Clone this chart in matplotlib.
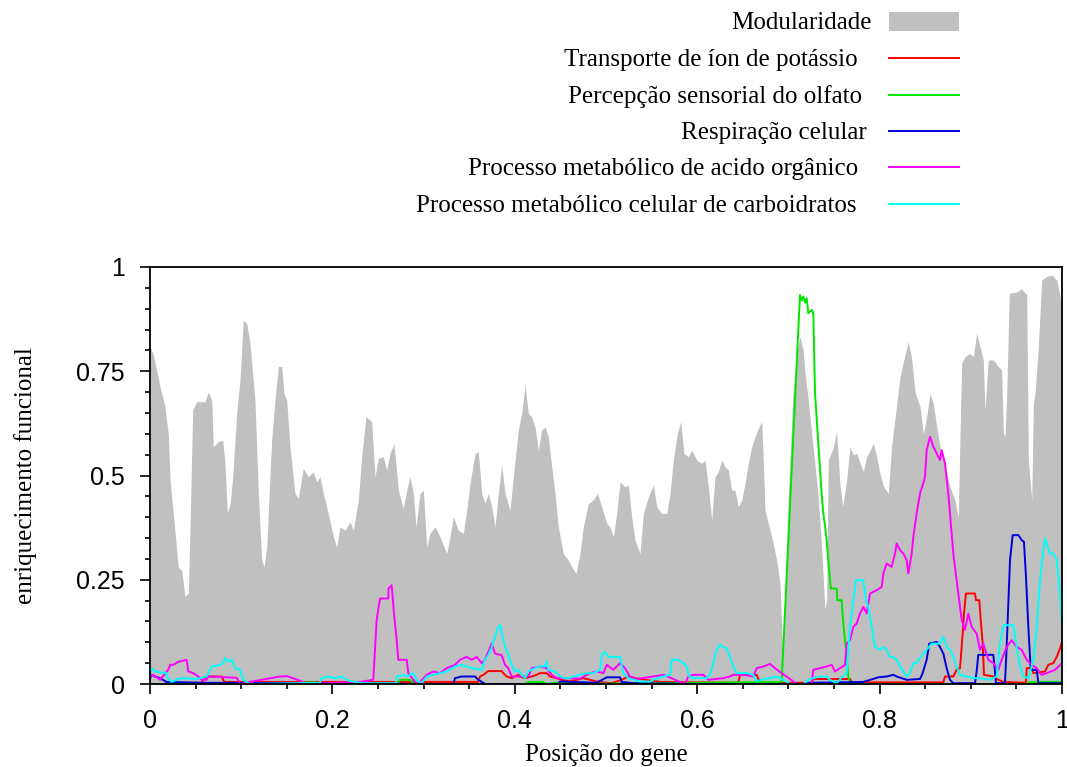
import numpy as np
import matplotlib.pyplot as plt
from matplotlib.lines import Line2D
from matplotlib.patches import Rectangle
from matplotlib.ticker import MultipleLocator, FixedLocator

# Modularidade (posição, valor)
modularidade = [
    (0.0, 0.81), (0.0036, 0.79), (0.011, 0.713), (0.0164, 0.665), (0.020, 0.60), (0.022, 0.49),
    (0.0255, 0.41), (0.031, 0.28), (0.0348, 0.273), (0.0384, 0.21), (0.042, 0.218), (0.0439, 0.377),
    (0.0468, 0.657), (0.0512, 0.677), (0.0603, 0.677), (0.0639, 0.70), (0.0677, 0.68), (0.0694, 0.569),
    (0.0749, 0.581), (0.0797, 0.585), (0.0822, 0.53), (0.0848, 0.41), (0.0877, 0.43), (0.0907, 0.497),
    (0.0951, 0.65), (0.0987, 0.729), (0.1023, 0.873), (0.106, 0.865), (0.1096, 0.817), (0.1151, 0.681),
    (0.1188, 0.457), (0.1225, 0.297), (0.125, 0.281), (0.128, 0.329), (0.1334, 0.585), (0.137, 0.68),
    (0.1407, 0.762), (0.1444, 0.761), (0.1469, 0.697), (0.1499, 0.681), (0.1535, 0.569), (0.159, 0.457),
    (0.1626, 0.446), (0.1681, 0.517), (0.1736, 0.497), (0.1791, 0.509), (0.1828, 0.485), (0.1864, 0.497),
    (0.19, 0.457), (0.1955, 0.409), (0.201, 0.353), (0.2047, 0.329), (0.2083, 0.377), (0.2138, 0.369),
    (0.2193, 0.389), (0.2229, 0.369), (0.2284, 0.441), (0.2321, 0.545), (0.2368, 0.641), (0.2431, 0.629),
    (0.2467, 0.497), (0.2503, 0.541), (0.2558, 0.545), (0.2595, 0.513), (0.2632, 0.553), (0.2675, 0.577),
    (0.2723, 0.465), (0.2777, 0.421), (0.2815, 0.465), (0.2851, 0.497), (0.2887, 0.457), (0.2917, 0.377),
    (0.2961, 0.457), (0.2997, 0.465), (0.3034, 0.329), (0.307, 0.361), (0.3125, 0.377), (0.318, 0.353),
    (0.3253, 0.313), (0.3289, 0.353), (0.3326, 0.401), (0.338, 0.369), (0.3435, 0.361), (0.3473, 0.417),
    (0.3509, 0.481), (0.3564, 0.553), (0.36, 0.557), (0.3637, 0.457), (0.3673, 0.433), (0.3709, 0.457),
    (0.3747, 0.425), (0.3783, 0.377), (0.3819, 0.457), (0.3856, 0.525), (0.3893, 0.457), (0.3947, 0.417),
    (0.3984, 0.497), (0.4038, 0.609), (0.4076, 0.649), (0.4112, 0.717), (0.4148, 0.649), (0.4185, 0.641),
    (0.4221, 0.617), (0.4258, 0.561), (0.4295, 0.609), (0.4331, 0.617), (0.4367, 0.593), (0.4405, 0.521),
    (0.4441, 0.457), (0.4477, 0.377), (0.4532, 0.313), (0.4587, 0.297), (0.4624, 0.281), (0.4671, 0.265),
    (0.4715, 0.313), (0.4751, 0.377), (0.4806, 0.433), (0.4861, 0.441), (0.4905, 0.457), (0.4953, 0.425),
    (0.5008, 0.385), (0.5044, 0.377), (0.508, 0.353), (0.5117, 0.409), (0.5154, 0.485), (0.5208, 0.473),
    (0.5245, 0.477), (0.5282, 0.401), (0.5318, 0.345), (0.5373, 0.313), (0.5409, 0.409), (0.5464, 0.449),
    (0.5519, 0.477), (0.5556, 0.425), (0.5611, 0.409), (0.5666, 0.409), (0.5702, 0.457), (0.5738, 0.537),
    (0.5782, 0.601), (0.5819, 0.629), (0.5855, 0.553), (0.5902, 0.545), (0.594, 0.561), (0.5995, 0.537),
    (0.6049, 0.529), (0.6086, 0.537), (0.6122, 0.473), (0.6159, 0.393), (0.6195, 0.497), (0.6231, 0.509),
    (0.6269, 0.537), (0.6305, 0.521), (0.6341, 0.513), (0.6378, 0.465), (0.6414, 0.465), (0.6451, 0.425),
    (0.6488, 0.441), (0.6524, 0.481), (0.656, 0.529), (0.6598, 0.569), (0.6634, 0.593), (0.667, 0.613),
    (0.6707, 0.629), (0.6725, 0.537), (0.6743, 0.417), (0.678, 0.385), (0.6834, 0.337), (0.6871, 0.297),
    (0.6908, 0.241), (0.6926, 0.137), (0.6937, 0.07), (0.6963, 0.2), (0.70, 0.45), (0.705, 0.7),
    (0.709, 0.79), (0.7127, 0.833), (0.7163, 0.80), (0.718, 0.75), (0.7218, 0.68), (0.727, 0.57),
    (0.7327, 0.45), (0.7364, 0.33), (0.74, 0.18), (0.7419, 0.2), (0.7437, 0.537), (0.749, 0.565),
    (0.7529, 0.605), (0.7565, 0.48), (0.7595, 0.425), (0.7639, 0.49), (0.7675, 0.569), (0.7712, 0.55),
    (0.7749, 0.553), (0.7785, 0.53), (0.7822, 0.51), (0.7858, 0.545), (0.7895, 0.56), (0.7931, 0.577),
    (0.7968, 0.545), (0.8004, 0.505), (0.8041, 0.475), (0.8095, 0.457), (0.8132, 0.57), (0.8224, 0.737),
    (0.8279, 0.79), (0.8315, 0.821), (0.8352, 0.78), (0.8388, 0.70), (0.8443, 0.665), (0.848, 0.60),
    (0.8516, 0.64), (0.8553, 0.697), (0.8589, 0.673), (0.8626, 0.617), (0.8662, 0.569), (0.8717, 0.521),
    (0.8772, 0.473), (0.8826, 0.441), (0.8863, 0.401), (0.8882, 0.60), (0.89, 0.769), (0.8936, 0.785),
    (0.899, 0.793), (0.9027, 0.785), (0.9064, 0.841), (0.91, 0.81), (0.9137, 0.777), (0.9155, 0.657),
    (0.9192, 0.777), (0.9247, 0.777), (0.9302, 0.761), (0.9338, 0.753), (0.9357, 0.601), (0.9375, 0.593),
    (0.9393, 0.69), (0.9422, 0.937), (0.9503, 0.94), (0.9558, 0.948), (0.9594, 0.937), (0.9613, 0.937),
    (0.9631, 0.537), (0.9668, 0.441), (0.9686, 0.673), (0.9704, 0.697), (0.9741, 0.809), (0.9777, 0.969),
    (0.9832, 0.977), (0.9887, 0.981), (0.9942, 0.969), (0.9978, 0.929), (1.0, 0.9),
]

# Transporte de íon de potássio
potassio = [
    (0.0, 0.0), (0.055, 0.0), (0.0622, 0.018), (0.0786, 0.018), (0.0813, 0.005), (0.3598, 0.005),
    (0.3619, 0.018), (0.3655, 0.022), (0.3709, 0.031), (0.3856, 0.031), (0.3874, 0.026), (0.3911, 0.018),
    (0.3966, 0.014), (0.4039, 0.022), (0.4058, 0.018), (0.4112, 0.014), (0.4185, 0.018), (0.4239, 0.022),
    (0.4276, 0.026), (0.4349, 0.026), (0.4386, 0.018), (0.4459, 0.014), (0.4514, 0.01), (0.4605, 0.006),
    (0.4678, 0.01), (0.4751, 0.014), (0.4897, 0.006), (0.5059, 0.002), (0.5172, 0.01), (0.5245, 0.018),
    (0.5318, 0.014), (0.5427, 0.01), (0.56, 0.005), (0.6451, 0.003), (0.6469, 0.022), (0.6652, 0.022),
    (0.6689, 0.003), (0.7255, 0.003), (0.7273, 0.012), (0.7676, 0.012), (0.7694, 0.004), (0.8699, 0.004),
    (0.8717, 0.018), (0.8808, 0.018), (0.8845, 0.034), (0.8882, 0.038), (0.8911, 0.121), (0.8925, 0.169),
    (0.8947, 0.217), (0.9046, 0.217), (0.9057, 0.201), (0.9093, 0.201), (0.9109, 0.153), (0.913, 0.097),
    (0.9145, 0.022), (0.9247, 0.018), (0.9283, 0.012), (0.9357, 0.005), (0.9605, 0.003), (0.9613, 0.038),
    (0.9668, 0.038), (0.9686, 0.026), (0.9814, 0.03), (0.985, 0.046), (0.9905, 0.05), (0.9942, 0.065),
    (0.9978, 0.085), (1.0, 0.101),
]

# Percepção sensorial do olfato
olfato = [
    (0.0, 0.0), (0.16, 0.0), (0.165, 0.004), (0.18, 0.004), (0.185, 0.0), (0.272, 0.0), (0.274, 0.01),
    (0.285, 0.01), (0.29, 0.0), (0.41, 0.0), (0.415, 0.005), (0.43, 0.005), (0.435, 0.0), (0.448, 0.004),
    (0.455, 0.004), (0.46, 0.0), (0.6926, 0.005), (0.7127, 0.933), (0.7146, 0.92), (0.7164, 0.929),
    (0.7182, 0.915), (0.7201, 0.925), (0.7218, 0.889), (0.7255, 0.897), (0.7273, 0.89), (0.7292, 0.697),
    (0.7328, 0.577), (0.7364, 0.457), (0.7383, 0.409), (0.7401, 0.38), (0.7419, 0.345), (0.7437, 0.297),
    (0.7464, 0.229), (0.753, 0.229), (0.7536, 0.201), (0.7584, 0.201), (0.7602, 0.145), (0.7632, 0.082),
    (0.7657, 0.018), (0.7675, 0.0), (0.96, 0.0), (0.965, 0.005), (1.0, 0.005),
]

# Respiração celular
respiracao = [
    (0.0, 0.014), (0.002, 0.022), (0.0055, 0.018), (0.011, 0.014), (0.018, 0.005), (0.06, 0.003),
    (0.19, 0.002), (0.3, 0.0), (0.3326, 0.0), (0.3344, 0.014), (0.3418, 0.018), (0.3564, 0.018),
    (0.36, 0.01), (0.3637, 0.005), (0.3673, 0.0), (0.4477, 0.0), (0.4495, 0.006), (0.4897, 0.003),
    (0.5008, 0.016), (0.5154, 0.016), (0.5172, 0.005), (0.53, 0.002), (0.6, 0.0), (0.7164, 0.0),
    (0.7237, 0.003), (0.7822, 0.005), (0.7986, 0.016), (0.8077, 0.018), (0.815, 0.022), (0.8187, 0.018),
    (0.8297, 0.01), (0.8443, 0.012), (0.8472, 0.026), (0.8516, 0.058), (0.8545, 0.097), (0.8626, 0.101),
    (0.8662, 0.089), (0.8699, 0.073), (0.8735, 0.038), (0.8772, 0.01), (0.8808, 0.002), (0.9046, 0.002),
    (0.9064, 0.03), (0.9082, 0.07), (0.9247, 0.07), (0.9265, 0.03), (0.9276, 0.002), (0.9375, 0.002),
    (0.9393, 0.089), (0.943, 0.297), (0.9459, 0.357), (0.9521, 0.357), (0.9558, 0.345), (0.9583, 0.341),
    (0.9605, 0.257), (0.9631, 0.137), (0.9657, 0.034), (0.9723, 0.034), (0.9741, 0.002), (1.0, 0.002),
]

# Processo metabólico de acido orgânico
acido_organico = [
    (0.0, 0.018), (0.0036, 0.022), (0.011, 0.01), (0.020, 0.034), (0.022, 0.046), (0.0255, 0.046),
    (0.031, 0.053), (0.0402, 0.058), (0.042, 0.03), (0.0475, 0.026), (0.053, 0.018), (0.0567, 0.01),
    (0.0622, 0.01), (0.0636, 0.018), (0.095, 0.015), (0.0987, 0.0), (0.1096, 0.005), (0.1425, 0.018),
    (0.15, 0.019), (0.1645, 0.008), (0.1718, 0.0), (0.2303, 0.005), (0.2448, 0.01), (0.2485, 0.153),
    (0.2522, 0.205), (0.2613, 0.205), (0.2615, 0.229), (0.265, 0.237), (0.2675, 0.17), (0.2705, 0.105),
    (0.2723, 0.058), (0.2815, 0.058), (0.2832, 0.026), (0.2887, 0.01), (0.2942, 0.0), (0.3034, 0.022),
    (0.3107, 0.03), (0.318, 0.026), (0.3253, 0.038), (0.3344, 0.046), (0.3399, 0.058), (0.3473, 0.065),
    (0.3527, 0.058), (0.3582, 0.065), (0.3637, 0.05), (0.3673, 0.058), (0.3709, 0.077), (0.3747, 0.097),
    (0.3783, 0.073), (0.3856, 0.069), (0.3893, 0.046), (0.3929, 0.038), (0.3966, 0.018), (0.4148, 0.018),
    (0.4185, 0.038), (0.4276, 0.042), (0.435, 0.038), (0.4405, 0.022), (0.446, 0.014), (0.4715, 0.013),
    (0.4825, 0.026), (0.4898, 0.03), (0.4971, 0.026), (0.5008, 0.046), (0.508, 0.034), (0.5154, 0.05),
    (0.5208, 0.038), (0.5263, 0.018), (0.5336, 0.012), (0.5519, 0.018), (0.5629, 0.022), (0.5738, 0.012),
    (0.5866, 0.0), (0.5902, 0.018), (0.5957, 0.022), (0.6067, 0.022), (0.6122, 0.01), (0.6286, 0.014),
    (0.636, 0.018), (0.6396, 0.022), (0.6505, 0.022), (0.6615, 0.018), (0.6652, 0.038), (0.6725, 0.042),
    (0.6798, 0.048), (0.6853, 0.038), (0.6926, 0.026), (0.7018, 0.012), (0.7091, 0.0), (0.7255, 0.0),
    (0.7273, 0.034), (0.7346, 0.038), (0.7419, 0.042), (0.7474, 0.046), (0.7511, 0.03), (0.7566, 0.038),
    (0.7621, 0.046), (0.7639, 0.097), (0.7675, 0.105), (0.7712, 0.137), (0.7749, 0.145), (0.7785, 0.169),
    (0.7822, 0.185), (0.7858, 0.169), (0.7895, 0.217), (0.7968, 0.225), (0.8023, 0.233), (0.8041, 0.265),
    (0.8077, 0.289), (0.8132, 0.281), (0.8169, 0.313), (0.8187, 0.337), (0.8224, 0.321), (0.826, 0.313),
    (0.8297, 0.297), (0.8315, 0.265), (0.8352, 0.313), (0.837, 0.353), (0.8406, 0.409), (0.8443, 0.457),
    (0.8479, 0.481), (0.8498, 0.497), (0.8516, 0.561), (0.8553, 0.593), (0.8589, 0.569), (0.8626, 0.553),
    (0.8662, 0.537), (0.868, 0.561), (0.8717, 0.529), (0.8753, 0.457), (0.8808, 0.313), (0.8863, 0.217),
    (0.89, 0.153), (0.8936, 0.13), (0.8973, 0.169), (0.9009, 0.137), (0.9064, 0.121), (0.91, 0.082),
    (0.9137, 0.097), (0.9192, 0.058), (0.9247, 0.05), (0.9302, 0.034), (0.9338, 0.058), (0.9393, 0.089),
    (0.9448, 0.105), (0.9503, 0.089), (0.9558, 0.082), (0.9613, 0.058), (0.9668, 0.046), (0.9723, 0.038),
    (0.9777, 0.022), (0.9832, 0.026), (0.9923, 0.034), (1.0, 0.05),
]

# Processo metabólico celular de carboidratos
carboidratos = [
    (0.0, 0.026), (0.0025, 0.038), (0.0055, 0.03), (0.018, 0.026), (0.0195, 0.014), (0.0237, 0.005),
    (0.033, 0.014), (0.0512, 0.012), (0.0622, 0.018), (0.0677, 0.042), (0.0768, 0.046), (0.0804, 0.05),
    (0.0822, 0.062), (0.0859, 0.054), (0.0895, 0.058), (0.0932, 0.038), (0.0987, 0.034), (0.1023, 0.01),
    (0.1096, 0.0), (0.1864, 0.003), (0.1882, 0.014), (0.1955, 0.018), (0.2029, 0.014), (0.2102, 0.018),
    (0.2175, 0.008), (0.2321, 0.002), (0.27, 0.002), (0.2705, 0.018), (0.2777, 0.022), (0.2815, 0.018),
    (0.2887, 0.026), (0.2924, 0.008), (0.2979, 0.002), (0.3034, 0.018), (0.3107, 0.022), (0.318, 0.026),
    (0.3253, 0.03), (0.3344, 0.042), (0.3417, 0.046), (0.3473, 0.042), (0.3527, 0.038), (0.3637, 0.034),
    (0.3673, 0.058), (0.3709, 0.069), (0.3747, 0.089), (0.3783, 0.113), (0.3819, 0.137), (0.3845, 0.141),
    (0.3856, 0.125), (0.3893, 0.089), (0.393, 0.07), (0.3966, 0.046), (0.4002, 0.03), (0.4038, 0.034),
    (0.4076, 0.022), (0.4112, 0.014), (0.4148, 0.03), (0.4185, 0.034), (0.4258, 0.042), (0.4331, 0.042),
    (0.4349, 0.054), (0.4367, 0.034), (0.4441, 0.03), (0.4477, 0.022), (0.4532, 0.014), (0.4587, 0.014),
    (0.4642, 0.018), (0.4715, 0.022), (0.4788, 0.026), (0.4861, 0.026), (0.4935, 0.034), (0.4953, 0.07),
    (0.499, 0.077), (0.5026, 0.065), (0.5154, 0.065), (0.5172, 0.046), (0.519, 0.026), (0.5245, 0.014),
    (0.5373, 0.006), (0.5482, 0.006), (0.5556, 0.014), (0.5629, 0.018), (0.5702, 0.022), (0.5721, 0.058),
    (0.5794, 0.058), (0.5849, 0.05), (0.5885, 0.042), (0.5913, 0.018), (0.5957, 0.014), (0.6104, 0.014),
    (0.614, 0.022), (0.6177, 0.05), (0.6213, 0.082), (0.625, 0.094), (0.6286, 0.089), (0.6323, 0.085),
    (0.636, 0.065), (0.6396, 0.042), (0.6433, 0.026), (0.6542, 0.026), (0.6615, 0.022), (0.6652, 0.006),
    (0.6725, 0.012), (0.6798, 0.014), (0.6871, 0.018), (0.6944, 0.01), (0.7018, 0.0), (0.7164, 0.0),
    (0.7237, 0.012), (0.7346, 0.018), (0.7419, 0.018), (0.7455, 0.01), (0.7529, 0.002), (0.7602, 0.02),
    (0.7639, 0.026), (0.7675, 0.137), (0.7712, 0.201), (0.774, 0.249), (0.7821, 0.249), (0.7851, 0.201),
    (0.7876, 0.185), (0.7912, 0.137), (0.7949, 0.089), (0.8004, 0.082), (0.8041, 0.089), (0.8077, 0.082),
    (0.8114, 0.065), (0.815, 0.065), (0.8187, 0.058), (0.8224, 0.042), (0.826, 0.03), (0.8297, 0.018),
    (0.8333, 0.026), (0.837, 0.05), (0.8406, 0.05), (0.8443, 0.062), (0.8479, 0.073), (0.8516, 0.082),
    (0.8571, 0.097), (0.8662, 0.097), (0.8699, 0.113), (0.8735, 0.089), (0.8772, 0.082), (0.8808, 0.065),
    (0.8845, 0.042), (0.8882, 0.022), (0.8955, 0.018), (0.9028, 0.014), (0.9101, 0.014), (0.921, 0.01),
    (0.9283, 0.018), (0.932, 0.097), (0.9357, 0.141), (0.9466, 0.141), (0.9503, 0.089), (0.9539, 0.042),
    (0.9576, 0.018), (0.9631, 0.014), (0.9686, 0.058), (0.9723, 0.137), (0.9759, 0.249), (0.9795, 0.321),
    (0.9814, 0.349), (0.9868, 0.313), (0.9905, 0.313), (0.9942, 0.297), (0.9978, 0.217), (1.0, 0.137),
]

series = [
    ('Transporte de íon de potássio', potassio, '#ff0000'),
    ('Percepção sensorial do olfato', olfato, '#00e600'),
    ('Respiração celular', respiracao, '#0000dd'),
    ('Processo metabólico de acido orgânico', acido_organico, '#ff00ff'),
    ('Processo metabólico celular de carboidratos', carboidratos, '#00ffff'),
]

x_ticks = [0, 0.2, 0.4, 0.6, 0.8, 1]
x_tick_labels = ['0', '0.2', '0.4', '0.6', '0.8', '1']
y_ticks = [0, 0.25, 0.5, 0.75, 1]
y_tick_labels = ['0', '0.25', '0.5', '0.75', '1']

serif = 'Liberation Serif'
sans = 'Liberation Sans'
fs = 18
W, H = 1067, 767

fig = plt.figure(figsize=(W / 100, H / 100), dpi=100)
ax = fig.add_axes([150 / W, 1 - 684 / H, (1062 - 150) / W, (684 - 267) / H])

mod = np.array(modularidade).T
ax.fill_between(mod[0], 0, mod[1], color='#c0c0c0', lw=0)
for nome, dados, cor in series:
    d = np.array(dados).T
    ax.plot(d[0], d[1], color=cor, lw=1.4)

ax.set_xlim(0, 1)
ax.set_ylim(0, 1)
ax.xaxis.set_major_locator(FixedLocator(x_ticks))
ax.set_xticklabels(x_tick_labels, fontfamily=sans, fontsize=fs)
ax.yaxis.set_major_locator(FixedLocator(y_ticks))
ax.set_yticklabels(y_tick_labels, fontfamily=sans, fontsize=fs)
ax.xaxis.set_minor_locator(MultipleLocator(0.05))
ax.yaxis.set_minor_locator(MultipleLocator(0.05))
ax.tick_params(which='major', direction='out', length=7, width=1.2, top=False, right=False, pad=11)
ax.tick_params(which='minor', direction='out', length=3.5, width=1.2, top=False, right=False)
for s in ax.spines.values():
    s.set_linewidth(1.3)

ax.set_xlabel('Posição do gene', fontfamily=serif, fontsize=fs, labelpad=8)
ax.set_ylabel('enriquecimento funcional', fontfamily=serif, fontsize=fs, labelpad=28)

# legenda fora do gráfico, texto alinhado à direita
rows_y = [21, 58, 95, 131, 167, 204]
text_right = [872, 858, 862, 867, 858, 857]
sx0, sx1 = 889, 959
fig.text(text_right[0] / W, 1 - (rows_y[0] + 2) / H, 'Modularidade', ha='right', va='center',
         fontfamily=serif, fontsize=fs)
fig.patches.append(Rectangle((sx0 / W, 1 - 31 / H), (sx1 - sx0) / W, 19 / H,
                             transform=fig.transFigure, color='#c0c0c0', lw=0))
for (nome, dados, cor), yy, xr in zip(series, rows_y[1:], text_right[1:]):
    fig.text(xr / W, 1 - (yy + 2) / H, nome, ha='right', va='center',
             fontfamily=serif, fontsize=fs)
    fig.lines.append(Line2D([sx0 / W, sx1 / W], [1 - yy / H, 1 - yy / H],
                            transform=fig.transFigure, color=cor, lw=1.4))

fig.savefig('out.png', dpi=100)
